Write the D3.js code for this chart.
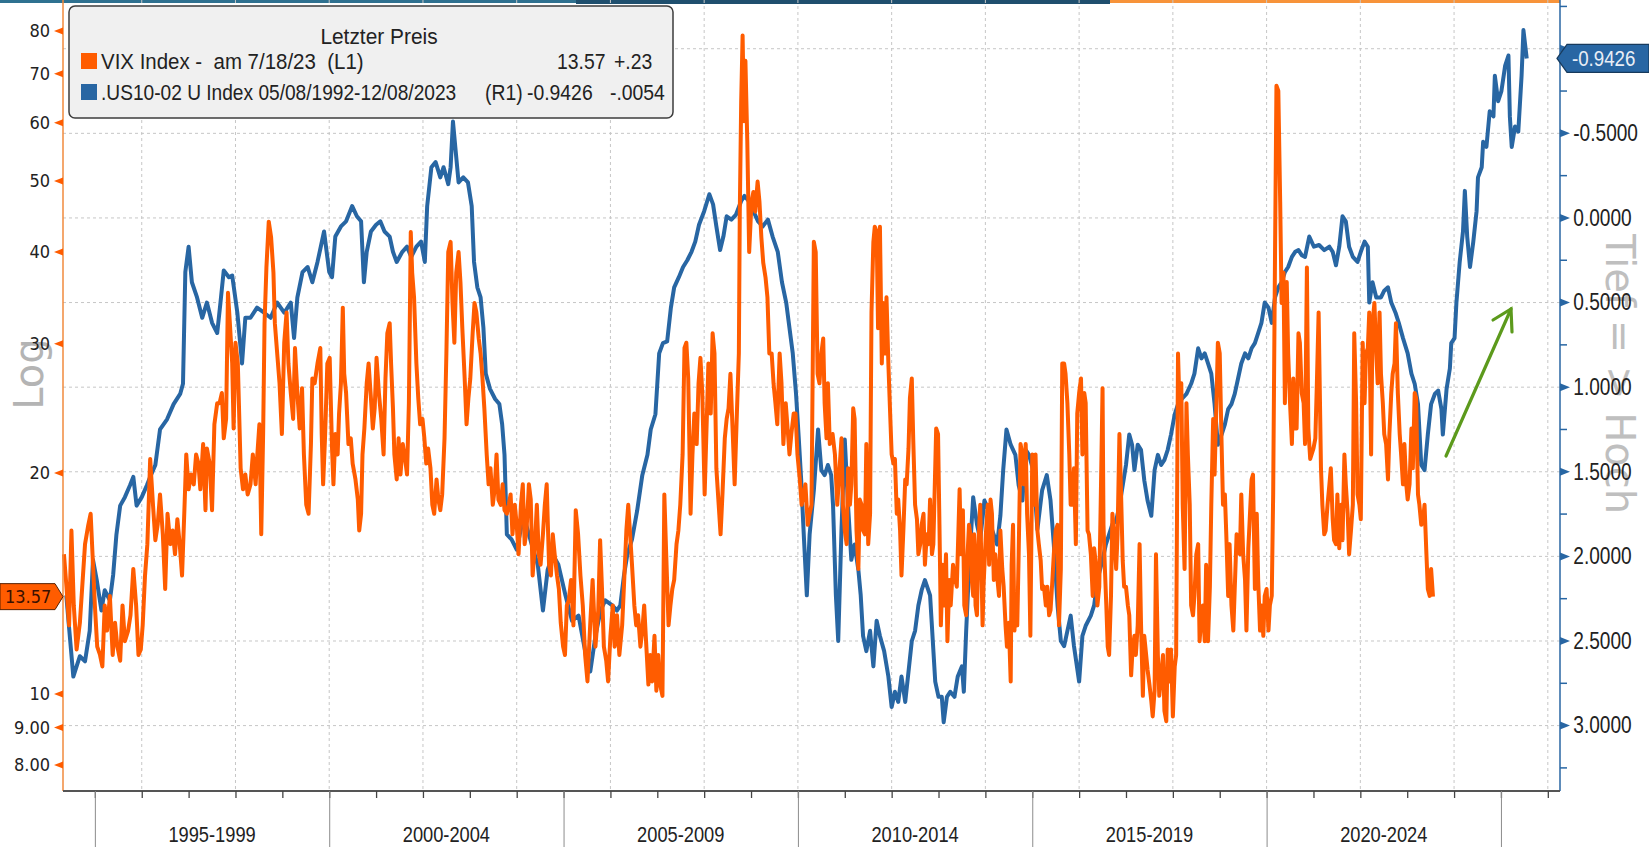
<!DOCTYPE html>
<html lang="en">
<head>
<meta charset="UTF-8">
<title>VIX Index vs US10-02</title>
<script src="https://d3js.org/d3.v7.min.js"></script>
<style>
  body { margin: 0; background: #fff; }
  svg { display: block; }
  .grid line { stroke: #c6c6c6; stroke-width: 1; stroke-dasharray: 3,3; }
</style>
</head>
<body>
<svg id="chart"></svg>
<script>
// VIX (left axis, log) - [year, value]
const vix = [
  [1994.34,15.5],[1994.39,14.1],[1994.45,12.4],[1994.5,16.7],[1994.55,13.2],[1994.61,11.5],[1994.68,12.5],[1994.74,14.3],[1994.79,16.0],[1994.86,17.0],[1994.91,17.6],[1994.95,15.5],
  [1995.0,13.2],[1995.05,11.6],[1995.11,11.3],[1995.16,10.9],[1995.21,13.2],[1995.26,12.2],[1995.32,13.6],[1995.38,11.3],[1995.43,12.5],[1995.48,11.6],[1995.54,11.1],[1995.59,13.2],[1995.64,11.8],[1995.71,12.2],[1995.76,12.8],[1995.82,14.8],[1995.88,13.2],[1995.93,11.3],[1995.98,11.5],
  [1996.02,12.4],[1996.07,14.5],[1996.12,16.0],[1996.18,20.9],[1996.24,18.1],[1996.29,16.2],[1996.34,17.0],[1996.39,18.7],[1996.45,16.5],[1996.5,13.9],[1996.55,17.6],[1996.61,16.0],[1996.66,16.7],[1996.71,15.5],[1996.76,17.3],[1996.81,16.0],[1996.86,14.5],[1996.91,17.8],[1996.95,21.2],
  [1997.0,19.0],[1997.05,19.9],[1997.11,19.3],[1997.16,21.2],[1997.21,20.6],[1997.25,19.0],[1997.31,21.9],[1997.36,17.8],[1997.39,21.6],[1997.45,20.6],[1997.5,17.8],[1997.55,23.3],[1997.61,24.9],[1997.66,24.9],[1997.71,25.7],[1997.75,22.3],[1997.8,23.7],[1997.84,35.2],[1997.88,32.0],[1997.93,28.2],[1997.96,23.0],
  [1998.0,30.1],[1998.05,28.2],[1998.11,20.3],[1998.16,19.0],[1998.21,19.9],[1998.26,18.7],[1998.32,19.3],[1998.37,21.2],[1998.43,19.3],[1998.46,20.9],[1998.51,23.3],[1998.55,16.5],[1998.59,22.6],[1998.62,32.0],[1998.66,38.1],[1998.71,44.0],[1998.76,41.9],[1998.81,37.5],[1998.84,32.0],[1998.89,29.1],[1998.94,26.5],[1998.99,22.6],
  [1999.04,30.1],[1999.09,33.1],[1999.13,28.2],[1999.18,25.7],[1999.23,23.7],[1999.27,29.6],[1999.32,25.7],[1999.37,23.0],[1999.42,26.1],[1999.46,21.2],[1999.51,18.1],[1999.56,17.6],[1999.61,21.9],[1999.64,26.9],[1999.69,26.5],[1999.75,28.2],[1999.81,29.6],[1999.84,22.6],[1999.87,19.3],[1999.91,22.3],[1999.96,28.2],
  [2000.01,28.7],[2000.06,21.6],[2000.09,19.3],[2000.13,22.6],[2000.18,21.2],[2000.21,24.1],[2000.25,26.5],[2000.29,33.6],[2000.32,27.3],[2000.36,25.7],[2000.41,21.9],[2000.46,22.3],[2000.5,20.6],[2000.56,19.6],[2000.61,18.4],[2000.64,16.7],[2000.68,17.6],[2000.71,21.2],[2000.75,23.0],[2000.8,26.5],[2000.84,28.2],[2000.89,25.3],[2000.93,23.0],[2000.97,24.5],
  [2001.01,28.7],[2001.06,25.7],[2001.11,23.7],[2001.16,21.2],[2001.2,26.9],[2001.24,31.0],[2001.29,32.0],[2001.32,28.2],[2001.36,24.5],[2001.39,21.2],[2001.44,19.6],[2001.48,22.3],[2001.52,19.9],[2001.57,21.9],[2001.62,20.9],[2001.66,19.9],[2001.7,24.9],[2001.74,42.6],[2001.77,37.5],[2001.81,34.7],[2001.86,28.2],[2001.9,25.3],[2001.94,23.3],[2001.99,23.7],
  [2002.03,22.3],[2002.07,20.6],[2002.11,21.6],[2002.16,20.3],[2002.2,18.1],[2002.24,17.6],[2002.29,19.6],[2002.33,18.4],[2002.37,17.8],[2002.41,18.7],[2002.46,22.3],[2002.5,29.1],[2002.54,40.0],[2002.59,41.3],[2002.63,34.1],[2002.67,30.1],[2002.71,37.5],[2002.76,40.0],[2002.8,36.4],[2002.84,31.5],[2002.89,26.9],[2002.93,23.3],[2002.97,25.3],
  [2003.01,26.9],[2003.06,31.0],[2003.1,34.1],[2003.14,33.1],[2003.19,30.5],[2003.23,29.1],[2003.27,26.9],[2003.31,24.5],[2003.36,21.2],[2003.4,19.3],[2003.44,20.3],[2003.49,18.1],[2003.53,19.0],[2003.57,21.2],[2003.61,18.4],[2003.66,18.1],[2003.7,19.3],[2003.74,17.8],[2003.79,17.6],[2003.83,18.1],[2003.87,18.7],[2003.91,16.5],[2003.96,18.1],
  [2004.0,17.0],[2004.04,15.5],[2004.09,18.1],[2004.13,19.3],[2004.17,16.0],[2004.21,16.7],[2004.26,19.3],[2004.3,18.4],[2004.34,14.5],[2004.39,16.0],[2004.43,18.1],[2004.47,15.5],[2004.51,15.0],[2004.56,16.5],[2004.6,18.1],[2004.64,19.3],[2004.69,15.0],[2004.73,14.5],[2004.77,16.5],[2004.81,15.5],[2004.86,14.5],[2004.9,13.9],[2004.94,12.5],[2004.99,11.6],
  [2005.03,11.3],[2005.07,13.2],[2005.11,13.4],[2005.16,14.3],[2005.21,12.4],[2005.26,17.8],[2005.31,16.5],[2005.36,14.5],[2005.41,13.2],[2005.46,11.3],[2005.51,10.4],[2005.57,12.5],[2005.62,14.3],[2005.68,11.6],[2005.74,13.0],[2005.78,16.2],[2005.82,13.9],[2005.86,11.6],[2005.91,11.1],[2005.95,10.4],
  [2006.0,12.0],[2006.05,13.2],[2006.09,11.6],[2006.14,12.8],[2006.19,11.3],[2006.25,12.4],[2006.29,14.1],[2006.34,16.7],[2006.38,18.1],[2006.42,16.5],[2006.46,15.0],[2006.51,13.2],[2006.55,12.4],[2006.59,12.8],[2006.64,11.6],[2006.68,12.2],[2006.72,13.2],[2006.76,11.8],[2006.81,10.3],[2006.85,11.3],[2006.89,10.4],[2006.94,12.0],[2006.98,10.1],
  [2007.02,11.3],[2007.06,10.3],[2007.11,9.94],[2007.15,18.7],[2007.19,15.5],[2007.24,12.4],[2007.28,13.2],[2007.32,13.9],[2007.36,14.3],[2007.41,16.0],[2007.45,16.7],[2007.49,18.1],[2007.54,21.2],[2007.58,29.6],[2007.62,30.1],[2007.66,26.9],[2007.71,17.6],[2007.75,21.2],[2007.79,24.1],[2007.84,21.9],[2007.88,26.5],[2007.92,28.7],[2007.96,25.7],
  [2008.01,18.7],[2008.05,23.0],[2008.09,28.2],[2008.14,24.1],[2008.18,31.0],[2008.22,29.1],[2008.26,20.3],[2008.31,18.1],[2008.35,16.5],[2008.39,18.7],[2008.44,22.3],[2008.48,23.7],[2008.52,24.5],[2008.56,27.3],[2008.61,22.6],[2008.65,19.3],[2008.69,23.3],[2008.74,29.1],[2008.76,45.4],[2008.79,64.3],[2008.82,78.9],[2008.85,60.3],[2008.88,72.9],[2008.92,56.6],[2008.96,40.0],
  [2009.01,46.8],[2009.05,48.3],[2009.09,45.4],[2009.14,49.9],[2009.18,46.8],[2009.22,41.9],[2009.26,38.7],[2009.31,36.9],[2009.35,34.7],[2009.39,29.1],[2009.44,29.1],[2009.48,26.5],[2009.52,24.9],[2009.56,23.3],[2009.61,29.1],[2009.65,26.5],[2009.69,21.9],[2009.74,24.9],[2009.78,23.0],[2009.82,21.2],[2009.86,22.6],[2009.91,24.1],[2009.95,24.1],[2009.99,21.2],
  [2010.04,19.6],[2010.08,18.1],[2010.12,18.7],[2010.16,19.3],[2010.21,17.0],[2010.25,17.6],[2010.29,18.1],[2010.34,41.3],[2010.38,40.0],[2010.42,27.3],[2010.46,26.5],[2010.5,29.1],[2010.54,30.5],[2010.57,24.9],[2010.61,22.3],[2010.64,26.5],[2010.68,21.9],[2010.74,22.6],[2010.79,21.2],[2010.84,18.1],[2010.88,19.9],[2010.93,22.3],[2010.96,18.1],
  [2011.0,16.7],[2011.04,16.0],[2011.07,20.3],[2011.11,18.1],[2011.14,19.3],[2011.18,24.5],[2011.21,23.7],[2011.25,16.7],[2011.29,14.8],[2011.32,18.4],[2011.36,18.1],[2011.39,16.7],[2011.43,16.5],[2011.46,21.9],[2011.5,16.0],[2011.54,17.6],[2011.57,33.1],[2011.61,41.3],[2011.64,43.3],[2011.68,42.6],[2011.71,31.5],[2011.75,43.3],[2011.79,28.2],[2011.82,34.1],[2011.86,29.1],[2011.89,34.7],[2011.93,28.2],[2011.96,24.9],
  [2012.0,21.2],[2012.04,20.6],[2012.07,20.9],[2012.11,17.6],[2012.14,18.4],[2012.18,16.7],[2012.21,14.5],[2012.25,16.7],[2012.29,19.6],[2012.32,19.3],[2012.36,21.6],[2012.39,25.3],[2012.43,26.9],[2012.46,22.3],[2012.5,18.1],[2012.54,17.3],[2012.57,15.5],[2012.61,16.0],[2012.64,17.0],[2012.68,17.6],[2012.71,15.0],[2012.75,16.5],[2012.79,16.0],[2012.82,18.4],[2012.86,15.5],[2012.89,16.0],[2012.95,23.0],[2012.99,22.6],
  [2013.02,17.0],[2013.05,12.4],[2013.09,15.0],[2013.12,13.2],[2013.16,15.5],[2013.19,11.8],[2013.23,14.3],[2013.26,13.2],[2013.31,15.0],[2013.34,14.5],[2013.39,14.0],[2013.45,19.0],[2013.48,15.5],[2013.52,17.8],[2013.55,13.2],[2013.59,12.8],[2013.62,15.5],[2013.65,17.0],[2013.68,16.5],[2013.71,14.3],[2013.74,13.6],[2013.76,16.5],[2013.79,13.2],[2013.82,12.8],[2013.85,16.0],[2013.89,18.1],[2013.94,12.4],[2013.96,14.0],
  [2014.01,16.5],[2014.05,18.1],[2014.08,15.0],[2014.11,18.4],[2014.14,17.6],[2014.18,14.3],[2014.21,15.5],[2014.25,14.5],[2014.29,13.6],[2014.32,16.7],[2014.36,14.8],[2014.39,14.0],[2014.43,12.4],[2014.46,11.6],[2014.5,12.5],[2014.54,10.4],[2014.56,15.0],[2014.59,17.0],[2014.62,12.2],[2014.65,13.6],[2014.68,12.4],[2014.71,15.5],[2014.75,21.9],[2014.79,21.2],[2014.82,19.3],[2014.86,21.9],[2014.89,17.6],[2014.93,15.5],[2014.96,12.0],
  [2015.0,21.2],[2015.04,18.1],[2015.07,21.2],[2015.11,16.7],[2015.14,16.0],[2015.18,15.2],[2015.21,13.9],[2015.25,14.0],[2015.29,13.2],[2015.32,14.0],[2015.36,12.8],[2015.39,13.0],[2015.43,14.3],[2015.46,15.5],[2015.5,16.7],[2015.54,17.0],[2015.57,12.4],[2015.61,14.8],[2015.64,28.2],[2015.68,28.2],[2015.71,27.3],[2015.75,24.9],[2015.79,21.2],[2015.82,18.1],[2015.86,18.1],[2015.89,20.3],[2015.93,16.0],[2015.96,24.1],
  [2016.0,25.7],[2016.04,26.9],[2016.07,21.2],[2016.11,25.7],[2016.14,24.9],[2016.18,16.7],[2016.21,16.5],[2016.25,15.5],[2016.29,13.6],[2016.32,15.8],[2016.36,15.0],[2016.39,13.2],[2016.43,14.0],[2016.46,18.1],[2016.5,26.1],[2016.52,17.0],[2016.55,14.8],[2016.58,13.2],[2016.61,11.6],[2016.64,11.3],[2016.68,13.6],[2016.71,17.6],[2016.75,16.5],[2016.79,14.8],[2016.82,16.5],[2016.86,22.6],[2016.89,19.3],[2016.93,15.2],[2016.96,14.0],
  [2017.0,14.0],[2017.04,13.2],[2017.07,12.8],[2017.11,10.6],[2017.14,11.5],[2017.18,12.0],[2017.21,11.3],[2017.25,12.4],[2017.29,16.0],[2017.32,12.5],[2017.36,9.94],[2017.39,12.0],[2017.43,11.3],[2017.46,10.8],[2017.5,10.3],[2017.54,9.78],[2017.57,9.32],[2017.61,10.1],[2017.64,15.5],[2017.68,11.3],[2017.71,9.94],[2017.75,10.6],[2017.79,11.3],[2017.82,9.48],[2017.86,9.18],[2017.89,11.5],[2017.93,10.4],[2017.96,11.5],
  [2018.0,9.32],[2018.04,10.9],[2018.07,11.3],[2018.11,29.1],[2018.14,24.9],[2018.18,26.5],[2018.21,18.1],[2018.25,14.8],[2018.29,24.9],[2018.32,21.2],[2018.36,18.1],[2018.39,13.2],[2018.43,12.8],[2018.46,13.6],[2018.5,15.5],[2018.54,16.0],[2018.57,11.8],[2018.61,12.8],[2018.64,13.2],[2018.68,11.8],[2018.71,15.0],[2018.75,11.8],[2018.79,14.0],[2018.82,18.1],[2018.86,23.7],[2018.89,19.9],[2018.93,24.9],[2018.96,30.1],
  [2019.0,29.1],[2019.04,21.9],[2019.07,18.1],[2019.11,18.7],[2019.14,16.5],[2019.18,13.6],[2019.21,16.0],[2019.25,13.2],[2019.29,12.2],[2019.32,13.9],[2019.36,16.5],[2019.39,16.0],[2019.43,15.5],[2019.46,18.7],[2019.5,15.5],[2019.54,14.3],[2019.57,12.2],[2019.61,15.8],[2019.64,17.3],[2019.68,19.6],[2019.71,19.9],[2019.75,13.9],[2019.79,17.6],[2019.82,14.3],[2019.86,12.2],[2019.89,13.2],[2019.93,12.0],[2019.96,13.6],
  [2020.0,13.9],[2020.04,12.2],[2020.07,13.2],[2020.11,13.6],[2020.14,18.7],[2020.18,40.0],[2020.21,67.4],[2020.25,66.3],[2020.29,46.8],[2020.32,34.1],[2020.36,37.5],[2020.39,24.9],[2020.43,36.4],[2020.46,29.1],[2020.5,24.9],[2020.54,21.9],[2020.57,26.9],[2020.61,23.0],[2020.64,23.0],[2020.68,31.0],[2020.71,30.1],[2020.75,25.7],[2020.79,24.9],[2020.82,21.9],[2020.86,38.1],[2020.89,23.0],[2020.93,20.9],[2020.96,21.2],
  [2021.0,21.6],[2021.04,22.3],[2021.07,26.1],[2021.11,33.1],[2021.16,20.3],[2021.19,18.1],[2021.23,16.5],[2021.26,16.7],[2021.3,18.1],[2021.34,19.3],[2021.37,20.3],[2021.41,17.3],[2021.44,16.2],[2021.48,16.0],[2021.51,18.7],[2021.55,15.8],[2021.59,18.1],[2021.62,16.2],[2021.66,21.2],[2021.69,19.3],[2021.73,17.6],[2021.76,15.5],[2021.8,16.7],[2021.84,18.1],[2021.87,31.0],[2021.91,24.9],[2021.94,18.7],[2021.98,18.1],
  [2022.01,17.3],[2022.05,30.1],[2022.09,24.9],[2022.12,29.1],[2022.16,29.6],[2022.19,33.1],[2022.23,21.2],[2022.26,32.0],[2022.3,34.1],[2022.34,29.1],[2022.37,26.5],[2022.41,33.1],[2022.44,27.3],[2022.48,24.9],[2022.51,22.6],[2022.55,21.9],[2022.59,19.6],[2022.62,22.6],[2022.66,25.7],[2022.69,27.3],[2022.73,28.2],[2022.76,32.0],[2022.8,25.7],[2022.84,22.6],[2022.87,21.2],[2022.91,19.3],[2022.94,21.9],[2022.98,19.3],
  [2023.01,18.4],[2023.05,19.3],[2023.09,23.0],[2023.12,20.3],[2023.16,25.7],[2023.19,25.3],[2023.23,18.7],[2023.26,18.1],[2023.3,17.0],[2023.34,17.3],[2023.37,18.1],[2023.41,15.5],[2023.44,13.9],[2023.48,13.6],[2023.51,14.8],[2023.55,13.57]
];

// .US10-02 spread (right axis, inverted) - [year, value]
const us1002 = [
  [1994.39,2.23],[1994.54,2.71],[1994.68,2.59],[1994.79,2.62],[1994.89,2.44],[1994.96,2.02],[1995.04,2.14],[1995.14,2.32],[1995.21,2.20],[1995.32,2.26],[1995.39,2.11],[1995.46,1.87],[1995.54,1.70],[1995.64,1.65],[1995.75,1.58],[1995.82,1.53],[1995.89,1.70],
  [1996.0,1.65],[1996.11,1.58],[1996.18,1.53],[1996.29,1.46],[1996.39,1.25],[1996.54,1.19],[1996.68,1.10],[1996.82,1.04],[1996.88,0.98],[1996.93,0.32],[1997.0,0.17],[1997.07,0.38],[1997.18,0.47],[1997.29,0.59],[1997.39,0.50],[1997.5,0.62],[1997.61,0.68],[1997.68,0.50],[1997.75,0.31],[1997.86,0.35],[1997.93,0.34],
  [1998.04,0.56],[1998.14,0.86],[1998.21,0.59],[1998.32,0.59],[1998.46,0.53],[1998.61,0.56],[1998.75,0.59],[1998.89,0.50],[1999.04,0.56],[1999.18,0.50],[1999.25,0.71],[1999.32,0.47],[1999.43,0.32],[1999.54,0.29],[1999.64,0.38],[1999.75,0.26],[1999.82,0.17],[1999.89,0.08],
  [2000.0,0.32],[2000.06,0.35],[2000.13,0.11],[2000.25,0.05],[2000.36,0.02],[2000.49,-0.07],[2000.59,-0.01],[2000.68,0.02],[2000.74,0.38],[2000.8,0.20],[2000.89,0.08],[2001.0,0.04],[2001.09,0.02],[2001.18,0.08],[2001.29,0.11],[2001.36,0.20],[2001.44,0.26],[2001.56,0.20],[2001.66,0.17],[2001.75,0.23],[2001.86,0.17],[2001.96,0.14],
  [2002.04,0.26],[2002.09,-0.07],[2002.18,-0.30],[2002.27,-0.33],[2002.37,-0.24],[2002.44,-0.30],[2002.54,-0.20],[2002.59,-0.30],[2002.64,-0.57],[2002.69,-0.42],[2002.76,-0.21],[2002.86,-0.24],[2002.96,-0.21],[2003.04,-0.07],[2003.09,0.26],[2003.16,0.41],[2003.23,0.47],[2003.29,0.65],[2003.34,0.92],[2003.43,1.01],[2003.54,1.07],[2003.63,1.10],[2003.69,1.22],[2003.74,1.40],[2003.79,1.87],[2003.89,1.90],
  [2004.0,1.96],[2004.11,1.81],[2004.2,1.81],[2004.32,1.93],[2004.45,2.05],[2004.56,2.32],[2004.66,2.08],[2004.77,1.99],[2004.89,2.05],[2005.04,2.23],[2005.18,2.38],[2005.32,2.35],[2005.46,2.56],[2005.57,2.68],[2005.68,2.47],[2005.79,2.32],[2005.89,2.26],
  [2006.04,2.29],[2006.14,2.32],[2006.21,2.29],[2006.29,2.11],[2006.36,1.99],[2006.46,1.90],[2006.57,1.73],[2006.68,1.52],[2006.79,1.40],[2006.86,1.25],[2006.96,1.16],[2007.04,0.80],[2007.12,0.74],[2007.21,0.73],[2007.29,0.53],[2007.36,0.41],[2007.46,0.35],[2007.55,0.29],[2007.64,0.25],[2007.73,0.20],[2007.81,0.14],[2007.89,0.04],
  [2008.0,-0.04],[2008.11,-0.14],[2008.19,-0.08],[2008.26,0.05],[2008.34,0.19],[2008.41,0.11],[2008.48,-0.01],[2008.58,0.01],[2008.68,-0.02],[2008.79,-0.10],[2008.86,-0.13],[2008.95,-0.10],[2009.05,-0.04],[2009.15,0.02],[2009.25,0.05],[2009.36,0.01],[2009.46,0.11],[2009.57,0.20],[2009.66,0.38],[2009.75,0.50],[2009.82,0.65],[2009.89,0.80],[2009.96,1.04],
  [2010.02,1.31],[2010.07,1.55],[2010.13,1.90],[2010.19,2.23],[2010.25,1.87],[2010.34,1.61],[2010.43,1.25],[2010.5,1.49],[2010.57,1.52],[2010.64,1.46],[2010.71,1.52],[2010.75,1.70],[2010.81,2.23],[2010.86,2.50],[2010.93,1.84],[2011.0,1.31],[2011.07,1.70],[2011.14,2.02],[2011.21,1.93],[2011.29,2.08],[2011.34,2.23],[2011.39,2.47],[2011.46,2.56],[2011.54,2.44],[2011.61,2.65],[2011.68,2.38],[2011.75,2.47],[2011.84,2.56],[2011.93,2.71],
  [2012.0,2.89],[2012.07,2.80],[2012.14,2.86],[2012.21,2.71],[2012.29,2.86],[2012.36,2.68],[2012.43,2.50],[2012.5,2.44],[2012.57,2.29],[2012.64,2.20],[2012.71,2.14],[2012.82,2.23],[2012.93,2.74],[2013.0,2.83],[2013.07,2.83],[2013.11,2.98],[2013.18,2.83],[2013.25,2.80],[2013.34,2.83],[2013.41,2.71],[2013.5,2.65],[2013.54,2.80],[2013.59,2.44],[2013.66,2.02],[2013.74,1.65],[2013.82,1.81],[2013.89,1.90],[2013.98,1.67],
  [2014.07,1.73],[2014.14,1.84],[2014.25,1.93],[2014.32,1.76],[2014.38,1.49],[2014.45,1.25],[2014.54,1.34],[2014.64,1.40],[2014.71,1.58],[2014.79,1.67],[2014.86,1.37],[2014.93,1.40],[2015.02,1.49],[2015.11,1.84],[2015.21,1.61],[2015.31,1.52],[2015.39,1.67],[2015.46,1.93],[2015.54,2.29],[2015.61,2.50],[2015.68,2.53],[2015.75,2.44],[2015.82,2.35],[2015.89,2.53],
  [2016.0,2.74],[2016.07,2.47],[2016.14,2.41],[2016.25,2.35],[2016.32,2.29],[2016.39,2.14],[2016.5,2.02],[2016.57,1.93],[2016.64,1.87],[2016.71,1.81],[2016.79,1.79],[2016.86,1.70],[2016.93,1.58],[2017.0,1.46],[2017.07,1.28],[2017.13,1.34],[2017.18,1.49],[2017.25,1.34],[2017.32,1.37],[2017.39,1.55],[2017.46,1.67],[2017.54,1.76],[2017.61,1.49],[2017.68,1.40],[2017.75,1.46],[2017.82,1.43],[2017.89,1.37],[2017.96,1.28],
  [2018.04,1.16],[2018.11,1.10],[2018.19,1.07],[2018.29,1.04],[2018.39,0.98],[2018.46,0.92],[2018.54,0.77],[2018.61,0.83],[2018.68,0.80],[2018.75,0.86],[2018.82,0.92],[2018.89,1.10],[2018.96,1.34],[2019.04,1.28],[2019.11,1.22],[2019.18,1.13],[2019.25,1.10],[2019.32,1.04],[2019.39,0.95],[2019.46,0.86],[2019.54,0.80],[2019.61,0.83],[2019.68,0.77],[2019.75,0.74],[2019.82,0.68],[2019.89,0.62],[2019.96,0.50],
  [2020.04,0.53],[2020.11,0.62],[2020.18,0.47],[2020.25,0.41],[2020.32,0.38],[2020.39,0.32],[2020.46,0.29],[2020.54,0.23],[2020.61,0.20],[2020.68,0.19],[2020.75,0.22],[2020.82,0.23],[2020.91,0.11],[2021.01,0.17],[2021.12,0.16],[2021.23,0.19],[2021.34,0.17],[2021.41,0.20],[2021.48,0.28],[2021.55,0.17],[2021.62,-0.01],[2021.69,0.02],[2021.76,0.17],[2021.84,0.23],[2021.94,0.26],
  [2022.01,0.20],[2022.09,0.14],[2022.16,0.17],[2022.19,0.50],[2022.26,0.38],[2022.34,0.47],[2022.44,0.47],[2022.51,0.43],[2022.59,0.41],[2022.66,0.50],[2022.75,0.56],[2022.82,0.62],[2022.91,0.71],[2023.01,0.80],[2023.09,0.92],[2023.16,0.98],[2023.23,1.10],[2023.3,1.46],[2023.37,1.49],[2023.44,1.28],[2023.51,1.10],[2023.59,1.04],[2023.66,1.02],[2023.73,1.13],[2023.76,1.28],[2023.84,1.01],[2023.91,0.89],[2023.94,0.74],
  [2024.01,0.71],[2024.05,0.50],[2024.12,0.26],[2024.19,0.08],[2024.23,-0.16],[2024.28,0.11],[2024.34,0.29],[2024.41,0.14],[2024.48,-0.04],[2024.51,-0.24],[2024.59,-0.30],[2024.62,-0.45],[2024.69,-0.42],[2024.76,-0.63],[2024.84,-0.60],[2024.87,-0.84],[2024.94,-0.69],
  [2025.01,-0.75],[2025.09,-0.90],[2025.16,-0.96],[2025.19,-0.60],[2025.23,-0.42],[2025.3,-0.54],[2025.37,-0.51],[2025.44,-0.84],[2025.48,-1.11],[2025.55,-0.9426]
];

const leftTicks = [8, 9, 10, 20, 30, 40, 50, 60, 70, 80];
const leftTickLabels = ["8.00", "9.00", "10", "20", "30", "40", "50", "60", "70", "80"];
const rightTicks = [-1, -0.5, 0, 0.5, 1, 1.5, 2, 2.5, 3];
const rightMinor = [-1.25, -0.75, -0.25, 0.25, 0.75, 1.25, 1.75, 2.25, 2.75, 3.25];
const periodStarts = [1995, 2000, 2005, 2010, 2015, 2020, 2025];
const periodLabels = ["1995-1999", "2000-2004", "2005-2009", "2010-2014", "2015-2019", "2020-2024"];
const legendRows = [
  { name: "VIX Index -  am 7/18/23  (L1)", axis: "", last: "13.57", chg: "+.23", color: "#ff5c00" },
  { name: ".US10-02 U Index 05/08/1992-12/08/2023", axis: "(R1)", last: "-0.9426", chg: "-.0054", color: "#2866a3" }
];
const lastVix = 13.57;
const lastUs = -0.9426;

const width = 1649, height = 847;
const plot = { left: 63, right: 1560, top: 0, bottom: 791 };
const orange = "#ff5c00", blue = "#2866a3";

const svg = d3.select('#chart').attr('width', width).attr('height', height);

const x = d3.scaleLinear().domain([1994.32, 2026.26]).range([plot.left, plot.right]);
const yLeft = d3.scaleLog().domain([7.375, 88.2]).range([plot.bottom, plot.top]);
const yRight = d3.scaleLinear().domain([-1.288, 3.3865]).range([plot.top, plot.bottom]);

// condensed-looking text: Liberation Sans squeezed horizontally
function narrowText(parent, tx, ty, str, size, sx, anchor, fill) {
  return parent.append('text')
    .attr('transform', `translate(${tx},${ty}) scale(${sx},1)`)
    .attr('font-family', '"Liberation Sans", Arial, sans-serif')
    .attr('font-size', size)
    .attr('text-anchor', anchor || 'start')
    .attr('fill', fill || '#222')
    .attr('xml:space', 'preserve')
    .text(str);
}

// window frame bars on top
svg.append('rect').attr('x', 0).attr('y', 0).attr('width', 576).attr('height', 3).attr('fill', '#2f7190');
svg.append('rect').attr('x', 576).attr('y', 0).attr('width', 534).attr('height', 4).attr('fill', '#1f4f6e');
svg.append('rect').attr('x', 1110).attr('y', 0).attr('width', 450).attr('height', 3).attr('fill', '#f7933a');

// grid
const grid = svg.append('g').attr('class', 'grid');
grid.selectAll('.hg').data(rightTicks).enter().append('line')
  .attr('x1', plot.left).attr('x2', plot.right)
  .attr('y1', d => yRight(d)).attr('y2', d => yRight(d));
grid.selectAll('.vg').data(d3.range(1996, 2027, 2)).enter().append('line')
  .attr('x1', d => x(d)).attr('x2', d => x(d))
  .attr('y1', plot.top).attr('y2', plot.bottom);

// axis titles (behind the labels)
svg.append('text').attr('transform', 'translate(43,374) rotate(-90)')
  .attr('text-anchor', 'middle').attr('font-family', 'DejaVu Sans').attr('font-size', 40)
  .attr('fill', '#b4b4b4').text('Log');
svg.append('text').attr('transform', 'translate(1606,374) rotate(90)')
  .attr('text-anchor', 'middle').attr('font-family', 'DejaVu Sans').attr('font-size', 40)
  .attr('fill', '#b4b4b4').attr('opacity', 0.85).text('Tief = > Hoch');

// lines
svg.append('path').datum(us1002)
  .attr('d', d3.line().x(d => x(d[0])).y(d => yRight(d[1])))
  .attr('fill', 'none').attr('stroke', blue).attr('stroke-width', 4).attr('stroke-linejoin', 'round');
svg.append('path').datum(vix)
  .attr('d', d3.line().x(d => x(d[0])).y(d => yLeft(d[1])))
  .attr('fill', 'none').attr('stroke', orange).attr('stroke-width', 4).attr('stroke-linejoin', 'round');

// green arrow annotation
const arrow = svg.append('g').attr('stroke', '#5c9a1c').attr('stroke-width', 3.2).attr('fill', 'none').attr('stroke-linecap', 'round');
arrow.append('line').attr('x1', 1446).attr('y1', 456).attr('x2', 1511).attr('y2', 309);
arrow.append('path').attr('d', 'M1493,320 L1511,309 L1512,332');

// left axis
svg.append('line').attr('x1', plot.left).attr('x2', plot.left).attr('y1', 0).attr('y2', plot.bottom)
  .attr('stroke', '#f08a3c').attr('stroke-width', 1.5);
const leftAxis = svg.append('g').attr('transform', `translate(${plot.left},0)`)
  .call(d3.axisLeft(yLeft).tickValues(leftTicks).tickFormat((d, i) => leftTickLabels[i]).tickSize(0).tickPadding(13));
leftAxis.select('.domain').remove();
leftAxis.selectAll('text').attr('font-family', '"DejaVu Sans Condensed", "DejaVu Sans", sans-serif')
  .attr('font-size', 18).attr('fill', '#222');
svg.selectAll('.ltri').data(leftTicks).enter().append('path')
  .attr('d', d => `M${plot.left},${yLeft(d) - 3.5} L${plot.left - 9},${yLeft(d)} L${plot.left},${yLeft(d) + 3.5} Z`)
  .attr('fill', orange);

// right axis
svg.append('line').attr('x1', plot.right).attr('x2', plot.right).attr('y1', 0).attr('y2', plot.bottom)
  .attr('stroke', blue).attr('stroke-width', 1.5);
const rightAxis = svg.append('g').attr('transform', `translate(${plot.right},0)`)
  .call(d3.axisRight(yRight).tickValues(rightTicks.filter(d => d > -1)).tickFormat(d => d.toFixed(4)).tickSize(0).tickPadding(16));
rightAxis.select('.domain').remove();
rightAxis.selectAll('text')
  .attr('font-family', '"Liberation Sans", Arial, sans-serif')
  .attr('font-size', 23).attr('fill', '#222')
  .attr('transform', 'scale(0.83,1)');
svg.selectAll('.rtri').data(rightTicks).enter().append('path')
  .attr('d', d => `M${plot.right},${yRight(d) - 4} L${plot.right + 10},${yRight(d)} L${plot.right},${yRight(d) + 4} Z`)
  .attr('fill', blue);
svg.selectAll('.rmin').data(rightMinor).enter().append('line')
  .attr('x1', plot.right).attr('x2', plot.right + 7)
  .attr('y1', d => yRight(d)).attr('y2', d => yRight(d))
  .attr('stroke', blue).attr('stroke-width', 1.5);

// bottom axis
svg.append('line').attr('x1', plot.left).attr('x2', plot.right).attr('y1', plot.bottom).attr('y2', plot.bottom)
  .attr('stroke', '#555').attr('stroke-width', 2);
const minor = svg.append('g').attr('transform', `translate(0,${plot.bottom})`)
  .call(d3.axisBottom(x).tickValues(d3.range(1995, 2027)).tickSize(7).tickFormat(''));
minor.select('.domain').remove();
minor.selectAll('line').attr('stroke', '#444').attr('stroke-width', 1.3);
const major = svg.append('g').attr('transform', `translate(0,${plot.bottom})`)
  .call(d3.axisBottom(x).tickValues(periodStarts).tickSize(height - plot.bottom).tickFormat(''));
major.select('.domain').remove();
major.selectAll('line').attr('stroke', '#8c8c8c').attr('stroke-width', 1);
periodLabels.forEach((lab, i) => {
  narrowText(svg, x(periodStarts[i] + 2.5), 842, lab, 22, 0.83, 'middle');
});

// last value markers
const yv = yLeft(lastVix);
svg.append('path').attr('d', `M0,${yv - 13} L55,${yv - 13} L63,${yv} L55,${yv + 13} L0,${yv + 13} Z`)
  .attr('fill', orange).attr('stroke', '#5a2000').attr('stroke-width', 1);
svg.append('text').attr('x', 5).attr('y', yv + 6.5)
  .attr('font-family', '"DejaVu Sans Condensed", sans-serif').attr('font-size', 18).attr('fill', '#3a1000')
  .text(lastVix.toFixed(2));

const yu = yRight(lastUs);
svg.append('path').attr('d', `M${plot.right - 3},${yu} L${plot.right + 7},${yu - 14} L${width},${yu - 14} L${width},${yu + 14} L${plot.right + 7},${yu + 14} Z`)
  .attr('fill', blue).attr('stroke', '#173a5c').attr('stroke-width', 1.2);
narrowText(svg, plot.right + 12, yu + 8, lastUs.toFixed(4), 22, 0.85, 'start', '#e8eef6');

// legend
const legend = svg.append('g');
legend.append('rect').attr('x', 69).attr('y', 6).attr('width', 604).attr('height', 112).attr('rx', 6)
  .attr('fill', '#f0f0f0').attr('stroke', '#3c3c3c').attr('stroke-width', 1.5);
narrowText(legend, 379, 44, 'Letzter Preis', 22, 0.95, 'middle');
const rowY = [69, 100];
const nameScale = [0.93, 0.87];
legendRows.forEach((r, i) => {
  legend.append('rect').attr('x', 81).attr('y', rowY[i] - 16).attr('width', 16).attr('height', 16).attr('fill', r.color);
  narrowText(legend, 101, rowY[i], r.name, 22, nameScale[i], 'start');
  if (r.axis) narrowText(legend, 485, rowY[i], r.axis, 22, 0.88, 'start');
  narrowText(legend, i === 0 ? 557 : 527, rowY[i], r.last, 22, 0.88, 'start');
  narrowText(legend, i === 0 ? 614 : 610, rowY[i], r.chg, 22, 0.88, 'start');
});
</script>
</body>
</html>
